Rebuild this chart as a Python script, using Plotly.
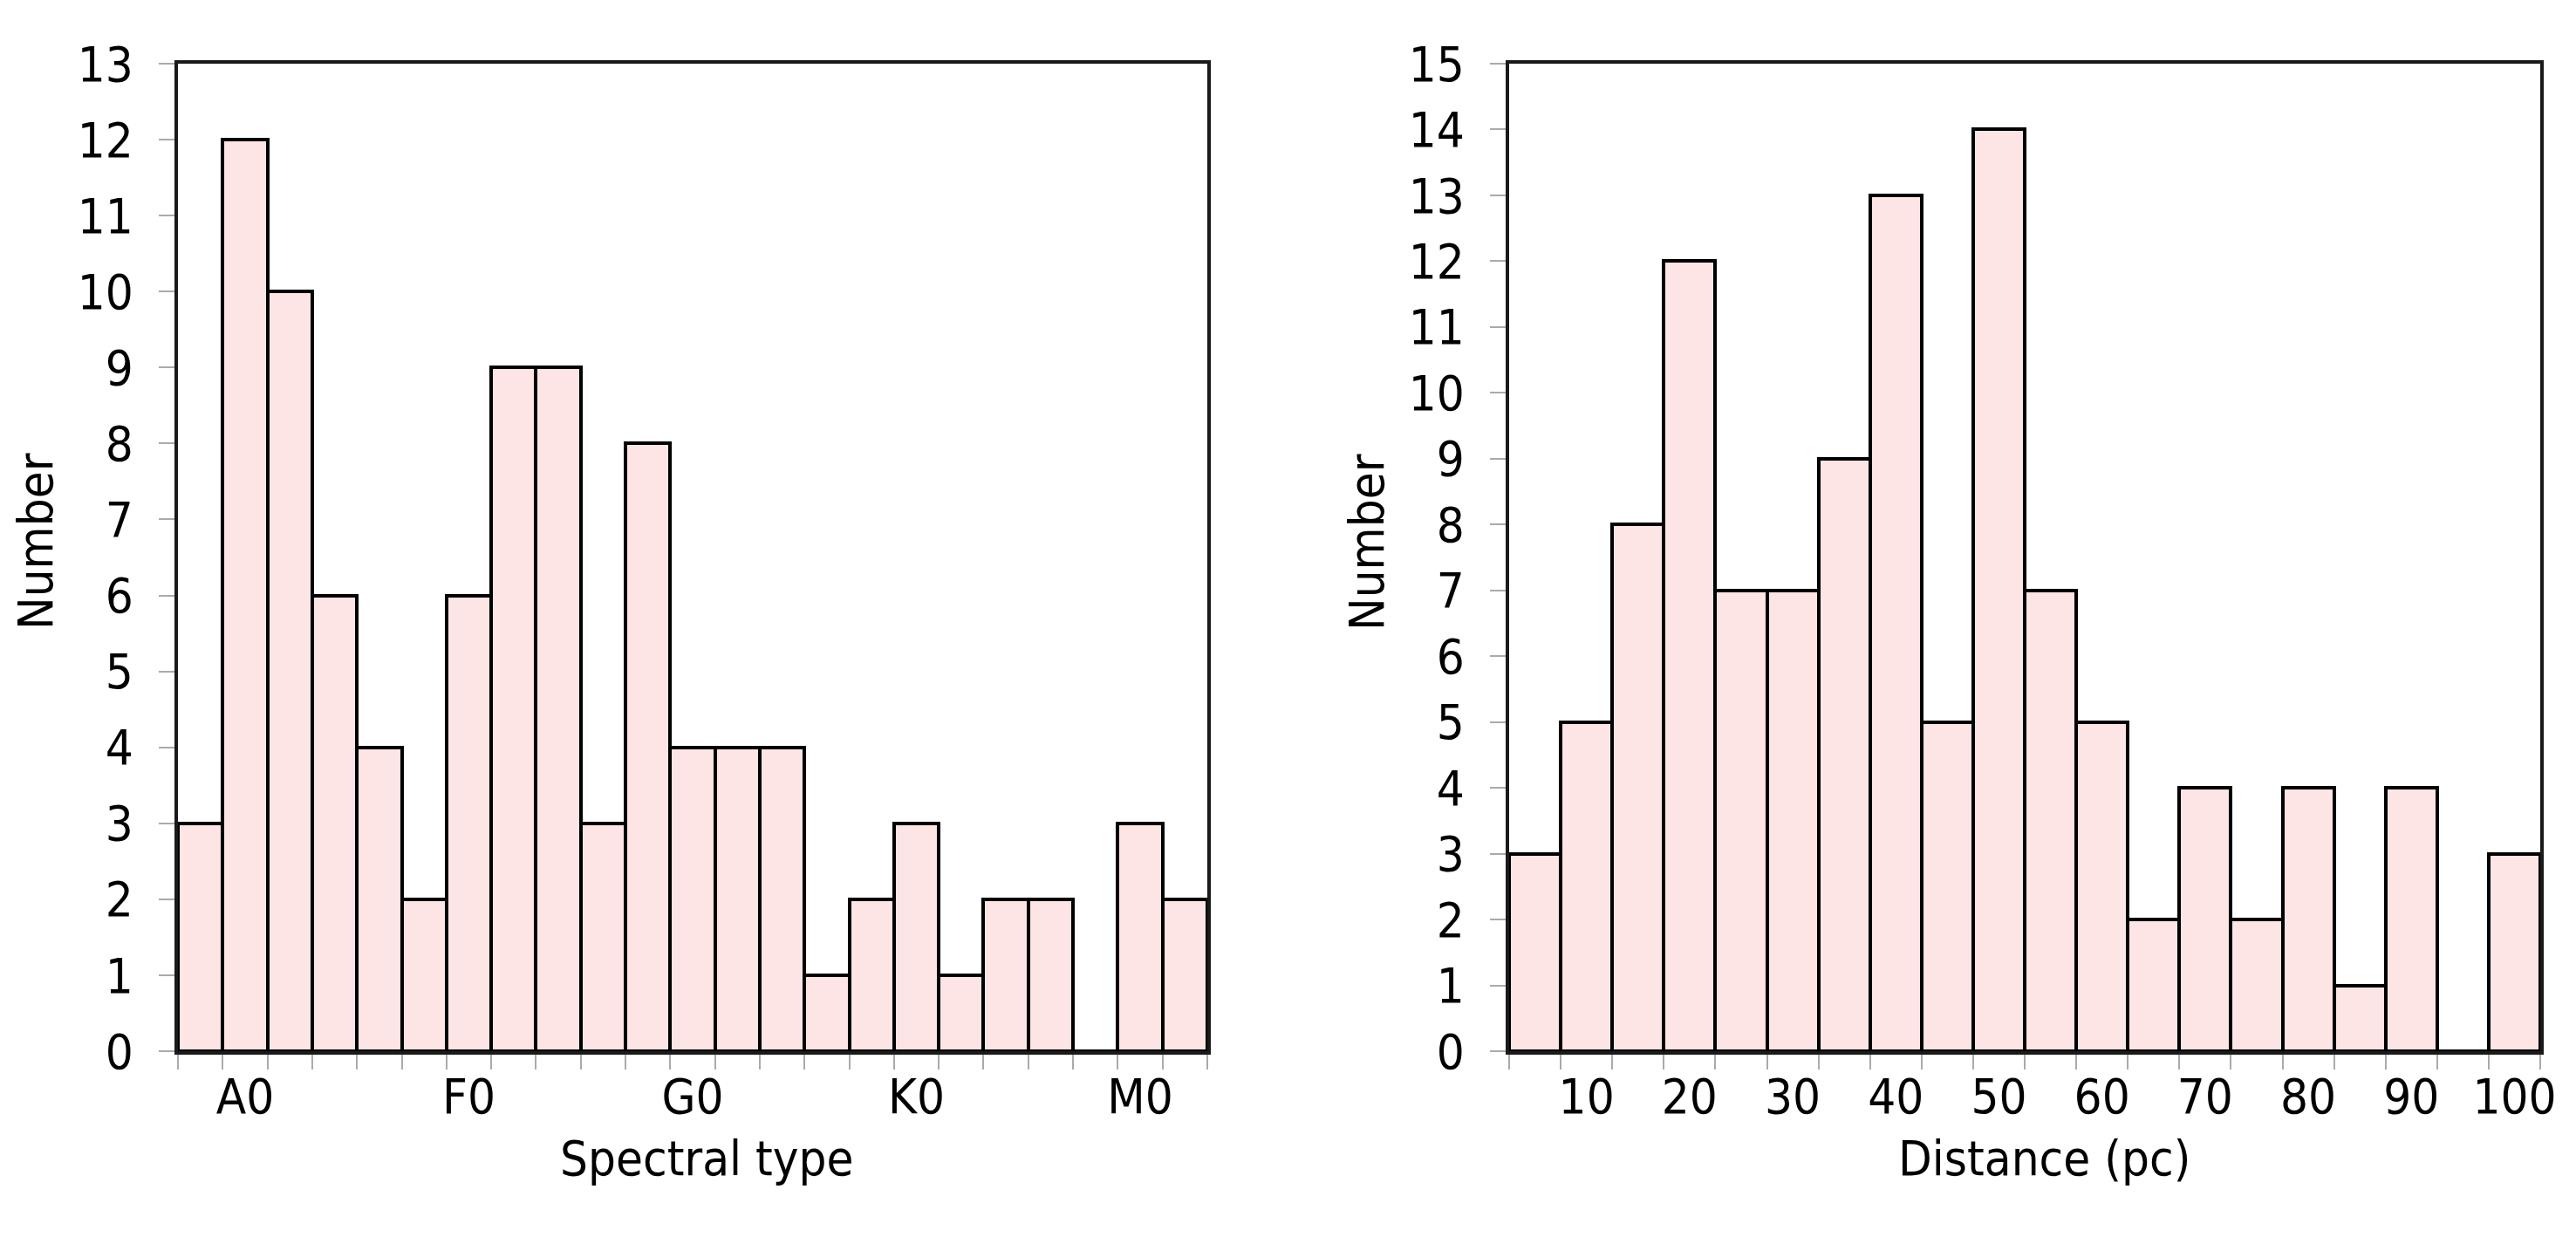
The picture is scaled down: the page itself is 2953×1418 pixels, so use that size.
import plotly.graph_objects as go

# ---- data ----
spec_pos = list(range(23))
spec_counts = [3, 12, 10, 6, 4, 2, 6, 9, 9, 3, 8, 4, 4, 4, 1, 2, 3, 1, 2, 2, 0, 3, 2]
spec_tickvals = [1, 6, 11, 16, 21]
spec_ticktext = ["A0", "F0", "G0", "K0", "M0"]

dist_centers = [5, 10, 15, 20, 25, 30, 35, 40, 45, 50, 55, 60, 65, 70, 75, 80, 85, 90, 95, 100]
dist_counts = [3, 5, 8, 12, 7, 7, 9, 13, 5, 14, 7, 5, 2, 4, 2, 4, 1, 4, 0, 3]
dist_tickvals = [10, 20, 30, 40, 50, 60, 70, 80, 90, 100]

FILL = "#fde4e5"
FONT = "DejaVu Sans Condensed, Liberation Sans, sans-serif"
FS = 56

fig = go.Figure()
fig.add_trace(go.Bar(x=spec_pos, y=spec_counts, width=1, marker=dict(color=FILL, line=dict(color="black", width=4)),
                     xaxis="x", yaxis="y", showlegend=False))
fig.add_trace(go.Bar(x=dist_centers, y=dist_counts, width=5, marker=dict(color=FILL, line=dict(color="black", width=4)),
                     xaxis="x2", yaxis="y2", showlegend=False))

W, H = 2953, 1418
def fx(p):
    return p / W
def fy(p):
    return 1 - p / H

tfont = dict(family=FONT, size=FS, color="black")
common_x = dict(showline=True, mirror=True, linecolor="#1a1a1a", linewidth=4, showgrid=False, zeroline=False,
                ticks="", tickfont=tfont, ticklabelstandoff=0, automargin=False)
common_y = dict(showline=True, mirror=True, linecolor="#1a1a1a", linewidth=4, showgrid=False, zeroline=False,
                ticks="outside", ticklen=18, tickwidth=2, tickcolor="#aaaaaa", dtick=1, tick0=0,
                tickfont=tfont, ticklabelstandoff=18, automargin=False)

fig.update_layout(
    width=W, height=H, paper_bgcolor="white", plot_bgcolor="white",
    margin=dict(l=0, r=0, t=0, b=0, autoexpand=False), bargap=0,
    xaxis=dict(domain=[fx(204), fx(1384)], range=[-0.5, 22.5], tickmode="array",
               tickvals=spec_tickvals, ticktext=spec_ticktext,
               minor=dict(ticks="outside", ticklen=17, tickwidth=2, tickcolor="#aaaaaa", tick0=-0.5, dtick=1),
               anchor="y", **common_x),
    yaxis=dict(domain=[fy(1205), fy(73)], range=[0, 13], anchor="x", **common_y),
    xaxis2=dict(domain=[fx(1730), fx(2912)], range=[2.5, 102.5], tickmode="array",
                tickvals=dist_tickvals,
                minor=dict(ticks="outside", ticklen=17, tickwidth=2, tickcolor="#aaaaaa", tick0=2.5, dtick=5),
                anchor="y2", **common_x),
    yaxis2=dict(domain=[fy(1205), fy(73)], range=[0, 15], anchor="x2", **common_y),
)

titles = [
    ("Spectral type", 811, 1327, 0),
    ("Distance (pc)", 2343, 1327, 0),
    ("Number", 40, 621, -90),
    ("Number", 1566, 621, -90),
]
for txt, px, py, ang in titles:
    fig.add_annotation(text=txt, x=fx(px), y=fy(py), xref="paper", yref="paper",
                       xanchor="center", yanchor="middle", showarrow=False, textangle=ang,
                       font=tfont)

fig.write_html("out.html")
